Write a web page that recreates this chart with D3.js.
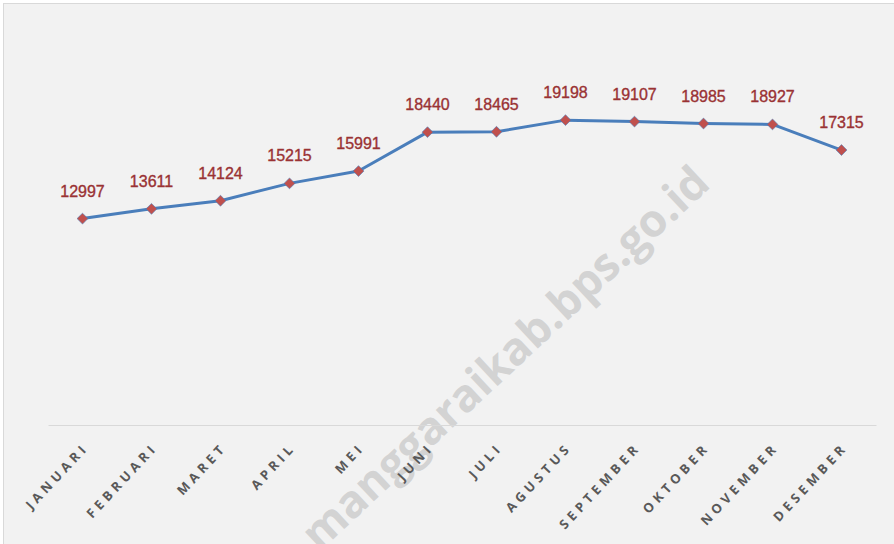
<!DOCTYPE html>
<html>
<head>
<meta charset="utf-8">
<script src="https://cdn.jsdelivr.net/npm/d3@7/dist/d3.min.js"></script>
<style>
html,body{margin:0;padding:0;background:#fff;}
svg{display:block;}
</style>
</head>
<body>
<svg id="chart" width="894" height="544"></svg>
<script>
const months = ["JANUARI","FEBRUARI","MARET","APRIL","MEI","JUNI","JULI","AGUSTUS","SEPTEMBER","OKTOBER","NOVEMBER","DESEMBER"];
const values = [12997,13611,14124,15215,15991,18440,18465,19198,19107,18985,18927,17315];
const yDomain = [0, 25000];
const watermarkText = "manggaraikab.bps.go.id";

const svg = d3.select("#chart");
const W = 894, H = 544;

// frame
svg.append("rect").attr("x",3.5).attr("y",3.5).attr("width",W+10).attr("height",H+10)
  .attr("fill","#f2f2f2").attr("stroke","#d9d9d9").attr("stroke-width",1);

const x = d3.scaleBand().domain(months).range([48, 876]).padding(0);
const y = d3.scaleLinear().domain(yDomain).range([425, 28]);

// watermark
svg.append("text")
  .attr("transform","translate(712,186) rotate(-43)")
  .attr("text-anchor","end")
  .attr("font-family","'Open Sans', sans-serif")
  .attr("font-weight",700)
  .attr("font-size",45)
  .attr("fill","#d3d3d3")
  .text(watermarkText);

// x axis
const xAxis = d3.axisBottom(x).tickSize(0).tickPadding(0);
const gx = svg.append("g").attr("transform","translate(0,425)").call(xAxis);
gx.select(".domain").attr("stroke","#d9d9d9").attr("stroke-width",1.2);
gx.selectAll(".tick text")
  .attr("text-anchor","end")
  .attr("font-family","'Open Sans', sans-serif")
  .attr("font-weight",700)
  .attr("font-size",13)
  .attr("letter-spacing","4.2px")
  .attr("fill","#595959")
  .attr("y",0).attr("dy","0")
  .attr("transform","translate(7,23) rotate(-47)");

const cx = d => x(d) + x.bandwidth()/2;

// line
const line = d3.line().x((d,i)=>cx(months[i])).y(d=>y(d));
svg.append("path").datum(values)
  .attr("d",line).attr("fill","none")
  .attr("stroke","#4a7ebb").attr("stroke-width",3).attr("stroke-linejoin","round");

// markers
const sym = d3.symbol().type(d3.symbolDiamond2).size(75);
svg.append("g").selectAll("path").data(values).join("path")
  .attr("d",sym)
  .attr("transform",(d,i)=>`translate(${cx(months[i])},${y(d)})`)
  .attr("fill","#c0504d").attr("stroke","#4a7ebb").attr("stroke-width",0.6);

// labels
svg.append("g").selectAll("text").data(values).join("text")
  .attr("x",(d,i)=>cx(months[i]))
  .attr("y",d=>y(d)-22)
  .attr("text-anchor","middle")
  .attr("font-family","'Liberation Sans', Arial, sans-serif")
  .attr("font-size",16)
  .attr("fill","#9a3234")
  .attr("stroke","#9a3234").attr("stroke-width",0.35)
  .text(d=>d);
</script>
</body>
</html>
